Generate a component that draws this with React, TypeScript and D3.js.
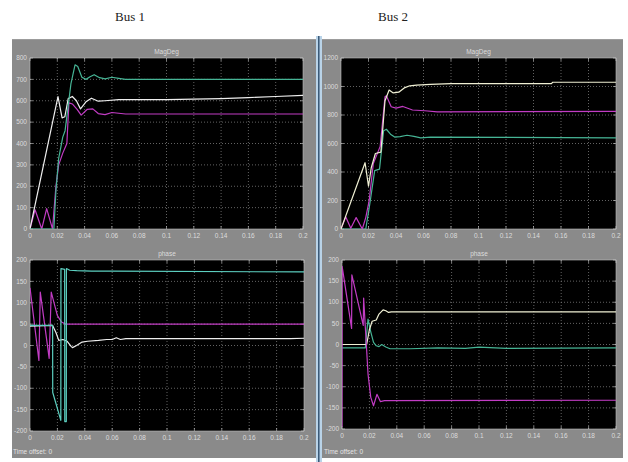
import React from "react";
import * as d3 from "d3";

// ---------- data ----------
const xTicks = [0, 0.02, 0.04, 0.06, 0.08, 0.1, 0.12, 0.14, 0.16, 0.18, 0.2];
const magTicksBus1 = [0, 100, 200, 300, 400, 500, 600, 700, 800];
const magTicksBus2 = [0, 200, 400, 600, 800, 1000, 1200];
const phaseTicks = [-200, -150, -100, -50, 0, 50, 100, 150, 200];
const headers = ["Bus 1", "Bus 2"];
const magTitle = "MagDeg";
const phaseTitle = "phase";
const offsetText = "Time offset:  0";

// Bus 1 magnitude
const b1MagWhiteT = [0, 0.0205, 0.0235, 0.0255, 0.028, 0.031, 0.034, 0.037, 0.041, 0.045, 0.05, 0.055, 0.065, 0.1, 0.14, 0.16, 0.18, 0.2];
const b1MagWhiteV = [0, 619, 520, 525, 610, 620, 600, 562, 595, 612, 598, 600, 605, 605, 610, 615, 620, 625];
const b1MagGreenT = [0, 0.0175, 0.019, 0.021, 0.024, 0.0257, 0.03, 0.033, 0.035, 0.038, 0.041, 0.044, 0.047, 0.051, 0.055, 0.06, 0.065, 0.07, 0.2];
const b1MagGreenV = [0, 0, 180, 330, 430, 460, 680, 768, 760, 710, 700, 712, 722, 708, 702, 710, 705, 700, 700];
const b1MagMagT = [0, 0.0037, 0.0086, 0.0122, 0.0165, 0.019, 0.021, 0.024, 0.027, 0.0285, 0.031, 0.0345, 0.0375, 0.042, 0.046, 0.05, 0.055, 0.06, 0.07, 0.2];
const b1MagMagV = [0, 90, 0, 95, 0, 200, 300, 355, 400, 590, 585, 560, 533, 560, 562, 540, 535, 545, 538, 538];

// Bus 1 phase
const b1PhMagT = [0, 0.0065, 0.0075, 0.014, 0.0155, 0.02, 0.023, 0.026, 0.2];
const b1PhMagV = [135, -35, 125, -30, 125, 70, 55, 50, 50];
const b1PhWhiteT = [0, 0.0165, 0.019, 0.021, 0.024, 0.027, 0.03, 0.031, 0.034, 0.038, 0.042, 0.05, 0.056, 0.06, 0.063, 0.066, 0.07, 0.19, 0.2];
const b1PhWhiteV = [45, 47, 30, 12, 14, 10, -2, -5, 0, 8, 10, 12, 14, 14, 18, 14, 16, 16, 17];
const b1PhCyanT = [0, 0.0165, 0.0166, 0.0225, 0.0226, 0.0253, 0.0254, 0.0265, 0.0266, 0.029, 0.034, 0.045, 0.06, 0.2];
const b1PhCyanV = [47, 47, -110, -175, 180, 178, -178, -178, 180, 176, 175, 174, 174, 172];

// Bus 2 magnitude
const b2MagWhiteT = [0, 0.0175, 0.02, 0.022, 0.025, 0.029, 0.032, 0.035, 0.038, 0.042, 0.046, 0.05, 0.055, 0.065, 0.08, 0.153, 0.154, 0.2];
const b2MagWhiteV = [0, 465, 300, 430, 530, 540, 900, 975, 955, 960, 990, 1005, 1010, 1015, 1020, 1020, 1030, 1030];
const b2MagMagT = [0, 0.0035, 0.0071, 0.011, 0.0155, 0.018, 0.0205, 0.0235, 0.0285, 0.032, 0.033, 0.0365, 0.04, 0.045, 0.052, 0.061, 0.07, 0.2];
const b2MagMagV = [0, 85, 5, 80, 0, 80, 200, 460, 580, 928, 935, 858, 848, 860, 835, 830, 822, 826];
const b2MagGreenT = [0, 0.018, 0.021, 0.0245, 0.028, 0.031, 0.033, 0.036, 0.039, 0.043, 0.048, 0.053, 0.058, 0.065, 0.2];
const b2MagGreenV = [0, 0, 180, 410, 420, 690, 700, 665, 645, 648, 658, 650, 640, 645, 640];

// Bus 2 phase
const b2PhMagT = [0, 0.0001, 0.007, 0.0072, 0.0155, 0.0158, 0.019, 0.021, 0.023, 0.0255, 0.028, 0.031, 0.2];
const b2PhMagV = [-195, 185, 38, 165, 45, 110, -70, -125, -145, -118, -135, -133, -132];
const b2PhWhiteT = [0, 0.018, 0.02, 0.022, 0.025, 0.027, 0.03, 0.032, 0.034, 0.036, 0.2];
const b2PhWhiteV = [0, 0, 35, 55, 58, 72, 82, 80, 76, 77, 77];
const b2PhGreenT = [0, 0.017, 0.019, 0.021, 0.023, 0.025, 0.027, 0.029, 0.032, 0.035, 0.05, 0.07, 0.09, 0.1, 0.12, 0.2];
const b2PhGreenV = [-8, -8, 60, 30, 5, -3, -5, 0, -6, -10, -10, -8, -9, -6, -9, -8];

// ---------- styling ----------
const WHITE = "#eeeeee";
const WHITE2 = "#f0f0d4";
const MAGENTA = "#c23cc4";
const GREEN = "#46b495";
const CYAN = "#5ccfc0";

type Series = { t: number[]; v: number[]; color: string };

const zip = (t: number[], v: number[]) => t.map((tt, i) => [tt, v[i]] as [number, number]);

function Scope(props: {
  x0: number; x1: number; y0: number; y1: number;
  yDomain: [number, number]; yTicks: number[]; title: string; series: Series[];
}) {
  const { x0, x1, y0, y1, yDomain, yTicks, title, series } = props;
  const xs = d3.scaleLinear().domain([0, 0.2]).range([x0, x1]);
  const ys = d3.scaleLinear().domain(yDomain).range([y1, y0]);
  const line = d3.line<[number, number]>().x(d => xs(d[0])).y(d => ys(d[1]));
  const fmt = d3.format("~g");
  const labelStyle = { fontFamily: "Liberation Sans, Arial, sans-serif", fontSize: 6.5, fill: "#dcdcdc" } as const;
  const id = `clip-${x0}-${y0}`;
  return (
    <g>
      <defs>
        <clipPath id={id}><rect x={x0} y={y0} width={x1 - x0} height={y1 - y0} /></clipPath>
      </defs>
      <rect x={x0} y={y0} width={x1 - x0} height={y1 - y0} fill="#000" stroke="#bdbdbd" strokeWidth={0.6} />
      {xTicks.slice(1, -1).map(t => (
        <line key={"gx" + t} x1={xs(t)} x2={xs(t)} y1={y0} y2={y1} stroke="#8c8c8c" strokeWidth={0.7} strokeDasharray="1,2" />
      ))}
      {yTicks.slice(1, -1).map(v => (
        <line key={"gy" + v} x1={x0} x2={x1} y1={ys(v)} y2={ys(v)} stroke="#8c8c8c" strokeWidth={0.7} strokeDasharray="1,2" />
      ))}
      {xTicks.map(t => (
        <g key={"xt" + t}>
          <line x1={xs(t)} x2={xs(t)} y1={y0} y2={y0 + 3} stroke="#cfcfcf" strokeWidth={0.6} />
          <line x1={xs(t)} x2={xs(t)} y1={y1} y2={y1 - 3} stroke="#cfcfcf" strokeWidth={0.6} />
          <text x={xs(t)} y={y1 + 9} textAnchor="middle" style={labelStyle}>{fmt(t)}</text>
        </g>
      ))}
      {yTicks.map(v => (
        <g key={"yt" + v}>
          <line x1={x0} x2={x0 + 3} y1={ys(v)} y2={ys(v)} stroke="#cfcfcf" strokeWidth={0.6} />
          <line x1={x1} x2={x1 - 3} y1={ys(v)} y2={ys(v)} stroke="#cfcfcf" strokeWidth={0.6} />
          <text x={x0 - 3} y={ys(v) + 2.2} textAnchor="end" style={labelStyle}>{v}</text>
        </g>
      ))}
      <text x={(x0 + x1) / 2} y={y0 - 4} textAnchor="middle" style={labelStyle}>{title}</text>
      <g clipPath={`url(#${id})`}>
        {series.map((s, i) => (
          <path key={i} d={line(zip(s.t, s.v)) || ""} fill="none" stroke={s.color} strokeWidth={1.2} strokeLinejoin="round" />
        ))}
      </g>
    </g>
  );
}

export default function App() {
  const W = 628, H = 462;
  const smallText = { fontFamily: "Liberation Sans, Arial, sans-serif", fontSize: 6.5, fill: "#e4e4e4" } as const;
  return (
    <svg width={W} height={H} style={{ position: "absolute", left: 0, top: 0, background: "#fff" }}>
      <rect x={0} y={0} width={W} height={H} fill="#ffffff" />
      <text x={130} y={21} textAnchor="middle" style={{ fontFamily: "Liberation Serif, Times New Roman, serif", fontSize: 13, fill: "#222" }}>{headers[0]}</text>
      <text x={393} y={21} textAnchor="middle" style={{ fontFamily: "Liberation Serif, Times New Roman, serif", fontSize: 13, fill: "#222" }}>{headers[1]}</text>

      {/* panels */}
      <rect x={12} y={39} width={304} height={419} fill="#8a8a8a" />
      <rect x={322} y={39} width={301} height={419} fill="#8a8a8a" />
      <line x1={12} x2={623} y1={39.5} y2={39.5} stroke="#9c9c9c" strokeWidth={1} />
      {/* separator */}
      <rect x={316} y={36} width={6} height={426} fill="#b9d3e8" />
      <line x1={318.8} x2={318.8} y1={36} y2={462} stroke="#2e4d6c" strokeWidth={1.4} />

      <Scope x0={30} x1={303} y0={58} y1={229} yDomain={[0, 800]} yTicks={magTicksBus1} title={magTitle}
        series={[
          { t: b1MagMagT, v: b1MagMagV, color: MAGENTA },
          { t: b1MagWhiteT, v: b1MagWhiteV, color: WHITE },
          { t: b1MagGreenT, v: b1MagGreenV, color: GREEN },
        ]} />
      <Scope x0={341} x1={616} y0={58} y1={229} yDomain={[0, 1200]} yTicks={magTicksBus2} title={magTitle}
        series={[
          { t: b2MagGreenT, v: b2MagGreenV, color: GREEN },
          { t: b2MagMagT, v: b2MagMagV, color: MAGENTA },
          { t: b2MagWhiteT, v: b2MagWhiteV, color: WHITE2 },
        ]} />
      <Scope x0={30} x1={304} y0={260} y1={431} yDomain={[-200, 200]} yTicks={phaseTicks} title={phaseTitle}
        series={[
          { t: b1PhMagT, v: b1PhMagV, color: MAGENTA },
          { t: b1PhWhiteT, v: b1PhWhiteV, color: WHITE },
          { t: b1PhCyanT, v: b1PhCyanV, color: CYAN },
        ]} />
      <Scope x0={342} x1={616} y0={260} y1={429} yDomain={[-200, 200]} yTicks={phaseTicks} title={phaseTitle}
        series={[
          { t: b2PhGreenT, v: b2PhGreenV, color: GREEN },
          { t: b2PhWhiteT, v: b2PhWhiteV, color: WHITE2 },
          { t: b2PhMagT, v: b2PhMagV, color: MAGENTA },
        ]} />

      <text x={13} y={454} style={smallText}>{offsetText}</text>
      <text x={324} y={454} style={smallText}>{offsetText}</text>
    </svg>
  );
}
